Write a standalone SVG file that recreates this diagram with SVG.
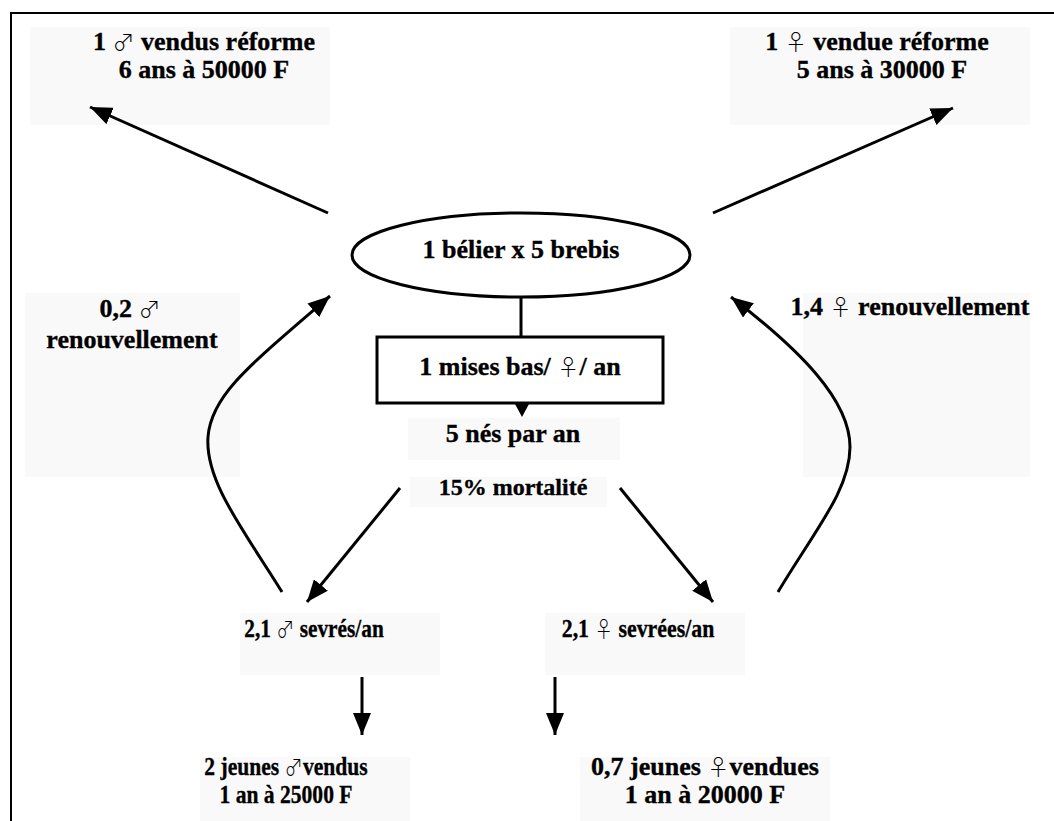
<svg xmlns="http://www.w3.org/2000/svg" width="1054" height="821" viewBox="0 0 1054 821">
<defs>
<marker id="ah" viewBox="0 0 22 18" refX="22" refY="9" markerWidth="22" markerHeight="18" markerUnits="userSpaceOnUse" orient="auto">
<path d="M0,0 L22,9 L0,18 z" fill="#000"/>
</marker>
</defs>
<style>
.t{font-family:"Liberation Serif","Times New Roman",serif;font-weight:bold;font-size:26px;fill:#000;stroke:#000;stroke-width:0.35px;text-anchor:middle}
.mo{font-size:24px}
.sym{font-family:"Noto Sans CJK JP","DejaVu Sans",sans-serif;font-weight:300;font-size:0.85em;stroke:none}
.bg{fill:#f9f9f9;stroke:none}
.ln{fill:none;stroke:#000;stroke-width:3}
</style>
<rect x="0" y="0" width="1054" height="821" fill="#fff"/>
<rect x="11" y="13" width="1070" height="840" fill="none" stroke="#000" stroke-width="2"/>
<g id="backgrounds">
<rect class="bg" x="30" y="27" width="300" height="98"/>
<rect class="bg" x="730" y="27" width="300" height="98"/>
<rect class="bg" x="25" y="293" width="215" height="184"/>
<rect class="bg" x="803" y="293" width="227" height="184"/>
<rect class="bg" x="408" y="418" width="212" height="42"/>
<rect class="bg" x="410" y="477" width="197" height="30"/>
<rect class="bg" x="240" y="613" width="200" height="62"/>
<rect class="bg" x="545" y="613" width="200" height="62"/>
<rect class="bg" x="200" y="757" width="210" height="64"/>
<rect class="bg" x="580" y="757" width="250" height="64"/>
</g>
<g id="connectors">
<line class="ln" x1="328" y1="213" x2="90" y2="107" marker-end="url(#ah)"/>
<line class="ln" x1="713" y1="213" x2="953" y2="108" marker-end="url(#ah)"/>
<path class="ln" d="M282,592 C240,525 205,480 208,437 C211,395 250,365 330,296" marker-end="url(#ah)"/>
<path class="ln" d="M778,592 C815,530 850,490 850,447 C850,400 800,350 731,297" marker-end="url(#ah)"/>
<line class="ln" x1="400" y1="488" x2="307" y2="602" marker-end="url(#ah)"/>
<line class="ln" x1="620" y1="488" x2="713" y2="602" marker-end="url(#ah)"/>
<line class="ln" x1="521" y1="297" x2="521" y2="337"/>
<polygon points="515,404 529,404 522,417" fill="#000"/>
<line class="ln" x1="362" y1="677" x2="362" y2="735" marker-end="url(#ah)"/>
<line class="ln" x1="555" y1="677" x2="555" y2="735" marker-end="url(#ah)"/>
</g>
<g id="n-male-reforme">
<text class="t" x="204" y="50">1 <tspan class="sym">♂</tspan> vendus réforme</text>
<text class="t" x="204" y="78">6 ans à 50000 F</text>
</g>
<g id="n-female-reforme">
<text class="t" x="877" y="50">1 <tspan class="sym">♀</tspan> vendue réforme</text>
<text class="t" x="882" y="78">5 ans à 30000 F</text>
</g>
<g id="n-troupeau">
<ellipse cx="521" cy="255" rx="169" ry="42" fill="#fff" stroke="#000" stroke-width="3"/>
<text class="t" x="521" y="258">1 bélier x 5 brebis</text>
</g>
<g id="n-mises-bas">
<rect x="377" y="337" width="286" height="66" fill="#fff" stroke="#000" stroke-width="3"/>
<text class="t" x="520" y="375">1 mises bas/ <tspan class="sym">♀</tspan>/ an</text>
</g>
<g id="n-nes">
<text class="t" x="513" y="442">5 nés par an</text>
</g>
<g id="n-mortalite">
<text class="t mo" x="513" y="495">15% mortalité</text>
</g>
<g id="n-renouv-male">
<text class="t" x="130" y="317">0,2 <tspan class="sym">♂</tspan></text>
<text class="t" x="132" y="348">renouvellement</text>
</g>
<g id="n-renouv-female">
<text class="t" x="910" y="315">1,4 <tspan class="sym">♀</tspan> renouvellement</text>
</g>
<g id="n-sevres-male">
<text class="t" transform="translate(314,637) scale(0.82,1)">2,1 <tspan class="sym">♂</tspan> sevrés/an</text>
</g>
<g id="n-sevrees-female">
<text class="t" transform="translate(638,637) scale(0.84,1)">2,1 <tspan class="sym">♀</tspan> sevrées/an</text>
</g>
<g id="n-jeunes-male">
<text class="t" transform="translate(286,775) scale(0.83,1)">2 jeunes <tspan class="sym">♂</tspan>vendus</text>
<text class="t" transform="translate(286,803) scale(0.83,1)">1 an à 25000 F</text>
</g>
<g id="n-jeunes-female">
<text class="t" x="705" y="775">0,7 jeunes <tspan class="sym">♀</tspan>vendues</text>
<text class="t" x="705" y="803">1 an à 20000 F</text>
</g>
</svg>
